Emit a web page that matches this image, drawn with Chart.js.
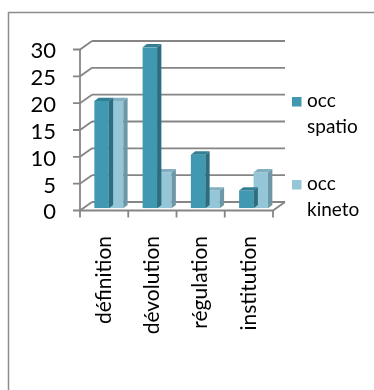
<!DOCTYPE html>
<html>
<head>
<meta charset="utf-8">
<script src="https://cdn.jsdelivr.net/npm/chart.js@4"></script>
<style>
  html, body { margin: 0; padding: 0; background: #fff; }
  canvas { display: block; }
</style>
</head>
<body>
<canvas id="occChart" width="374" height="390"></canvas>
<script>
const categories = ['définition', 'dévolution', 'régulation', 'institution'];
const occSpatio = [20, 30, 10, 3.3];
const occKineto = [20, 6.7, 3.3, 6.7];
const seriesNames = [['occ', 'spatio'], ['occ', 'kineto']];

const FONT = 'Lato, "Open Sans", sans-serif';
const GRID = '#858585';
// offsets of the front and back planes from the plane the bars are drawn in
const FRONT = { dx: -4.7, dy: 2.2 };
const BACK = { dx: 7.3, dy: -6.3 };
// bar depth
const BD = { dx: 4.3, dy: -3.3 };

const faceColors = [
  { side: '#2d6d80', top: '#357f94' },
  { side: '#6d97a6', top: '#81afc0' }
];

const frame3d = {
  id: 'frame3d',
  beforeDraw(chart) {
    const ctx = chart.ctx;
    const area = chart.chartArea;
    const ys = chart.scales.y;
    const xs = chart.scales.x;
    ctx.save();
    ctx.fillStyle = '#fff';
    ctx.fillRect(0, 0, chart.width, chart.height);

    // outer border
    ctx.strokeStyle = '#8c8c8c';
    ctx.lineWidth = 1.5;
    ctx.strokeRect(8.5, 12.5, 420, 420);

    ctx.strokeStyle = GRID;
    ctx.lineWidth = 1.8;
    const fl = area.left + FRONT.dx, fr = area.right + FRONT.dx;
    const bl = area.left + BACK.dx, br = area.right + BACK.dx;

    ys.ticks.forEach(t => {
      const y = ys.getPixelForValue(t.value);
      // back wall gridline
      ctx.beginPath();
      ctx.moveTo(bl, y + BACK.dy);
      ctx.lineTo(br, y + BACK.dy);
      ctx.stroke();
      // side wall diagonal + outward tick
      ctx.beginPath();
      ctx.moveTo(fl - 7, y + FRONT.dy);
      ctx.lineTo(fl, y + FRONT.dy);
      ctx.lineTo(bl, y + BACK.dy);
      ctx.stroke();
    });

    // front vertical axis
    const yTop = ys.getPixelForValue(ys.max), yBot = ys.getPixelForValue(0);
    ctx.beginPath();
    ctx.moveTo(fl, yTop + FRONT.dy);
    ctx.lineTo(fl, yBot + FRONT.dy);
    ctx.stroke();

    // floor: front edge and right diagonal
    ctx.beginPath();
    ctx.moveTo(fl, yBot + FRONT.dy);
    ctx.lineTo(fr, yBot + FRONT.dy);
    ctx.lineTo(br, yBot + BACK.dy);
    ctx.stroke();

    // category ticks
    const cw = (area.right - area.left) / categories.length;
    for (let i = 0; i <= categories.length; i++) {
      const x = fl + i * cw;
      ctx.beginPath();
      ctx.moveTo(x, yBot + FRONT.dy);
      ctx.lineTo(x, yBot + FRONT.dy + 7);
      ctx.stroke();
    }

    // y labels
    ctx.fillStyle = '#000';
    ctx.font = '22px ' + FONT;
    ctx.textAlign = 'right';
    ctx.textBaseline = 'middle';
    ys.ticks.forEach(t => {
      ctx.fillText(String(t.value), 56, ys.getPixelForValue(t.value) + 4);
    });

    // x labels, rotated
    ctx.font = '21px ' + FONT;
    categories.forEach((c, i) => {
      const x = xs.getPixelForValue(i) + FRONT.dx;
      ctx.save();
      ctx.translate(x, 236);
      ctx.rotate(-Math.PI / 2);
      ctx.textAlign = 'right';
      ctx.textBaseline = 'middle';
      ctx.fillText(c, 0, 0);
      ctx.restore();
    });

    // legend
    const legendY = [107, 190];
    ctx.font = '19px ' + FONT;
    ctx.textAlign = 'left';
    ctx.textBaseline = 'alphabetic';
    chart.data.datasets.forEach((ds, i) => {
      ctx.fillStyle = ds.backgroundColor;
      ctx.fillRect(292, legendY[i] - 10, 9.5, 9.5);
      ctx.fillStyle = '#000';
      seriesNames[i].forEach((line, j) => {
        ctx.fillText(line, 307, legendY[i] + j * 26);
      });
    });
    ctx.restore();
  },
  afterDatasetDraw(chart, args) {
    const ctx = chart.ctx;
    const colors = faceColors[args.index];
    ctx.save();
    args.meta.data.forEach(bar => {
      const p = bar.getProps(['x', 'y', 'base', 'width'], true);
      const l = p.x - p.width / 2, r = p.x + p.width / 2;
      // side face
      ctx.fillStyle = colors.side;
      ctx.beginPath();
      ctx.moveTo(r, p.y);
      ctx.lineTo(r + BD.dx, p.y + BD.dy);
      ctx.lineTo(r + BD.dx, p.base + BD.dy);
      ctx.lineTo(r, p.base);
      ctx.closePath();
      ctx.fill();
      // top face
      ctx.fillStyle = colors.top;
      ctx.beginPath();
      ctx.moveTo(l, p.y);
      ctx.lineTo(l + BD.dx, p.y + BD.dy);
      ctx.lineTo(r + BD.dx, p.y + BD.dy);
      ctx.lineTo(r, p.y);
      ctx.closePath();
      ctx.fill();
    });
    ctx.restore();
  }
};

new Chart(document.getElementById('occChart'), {
  type: 'bar',
  data: {
    labels: categories,
    datasets: [
      { label: 'occ spatio', data: occSpatio, backgroundColor: '#4198b1' },
      { label: 'occ kineto', data: occKineto, backgroundColor: '#94c6d8' }
    ]
  },
  options: {
    responsive: false,
    animation: false,
    devicePixelRatio: 1,
    layout: { padding: { left: 84.7, right: 374 - 277.7, top: 47.3, bottom: 390 - 208.3 } },
    datasets: { bar: { categoryPercentage: 0.6, barPercentage: 1 } },
    scales: {
      x: { display: false },
      y: { display: false, min: 0, max: 30, ticks: { stepSize: 5 } }
    },
    plugins: { legend: { display: false }, tooltip: { enabled: false } }
  },
  plugins: [frame3d]
});
</script>
</body>
</html>
